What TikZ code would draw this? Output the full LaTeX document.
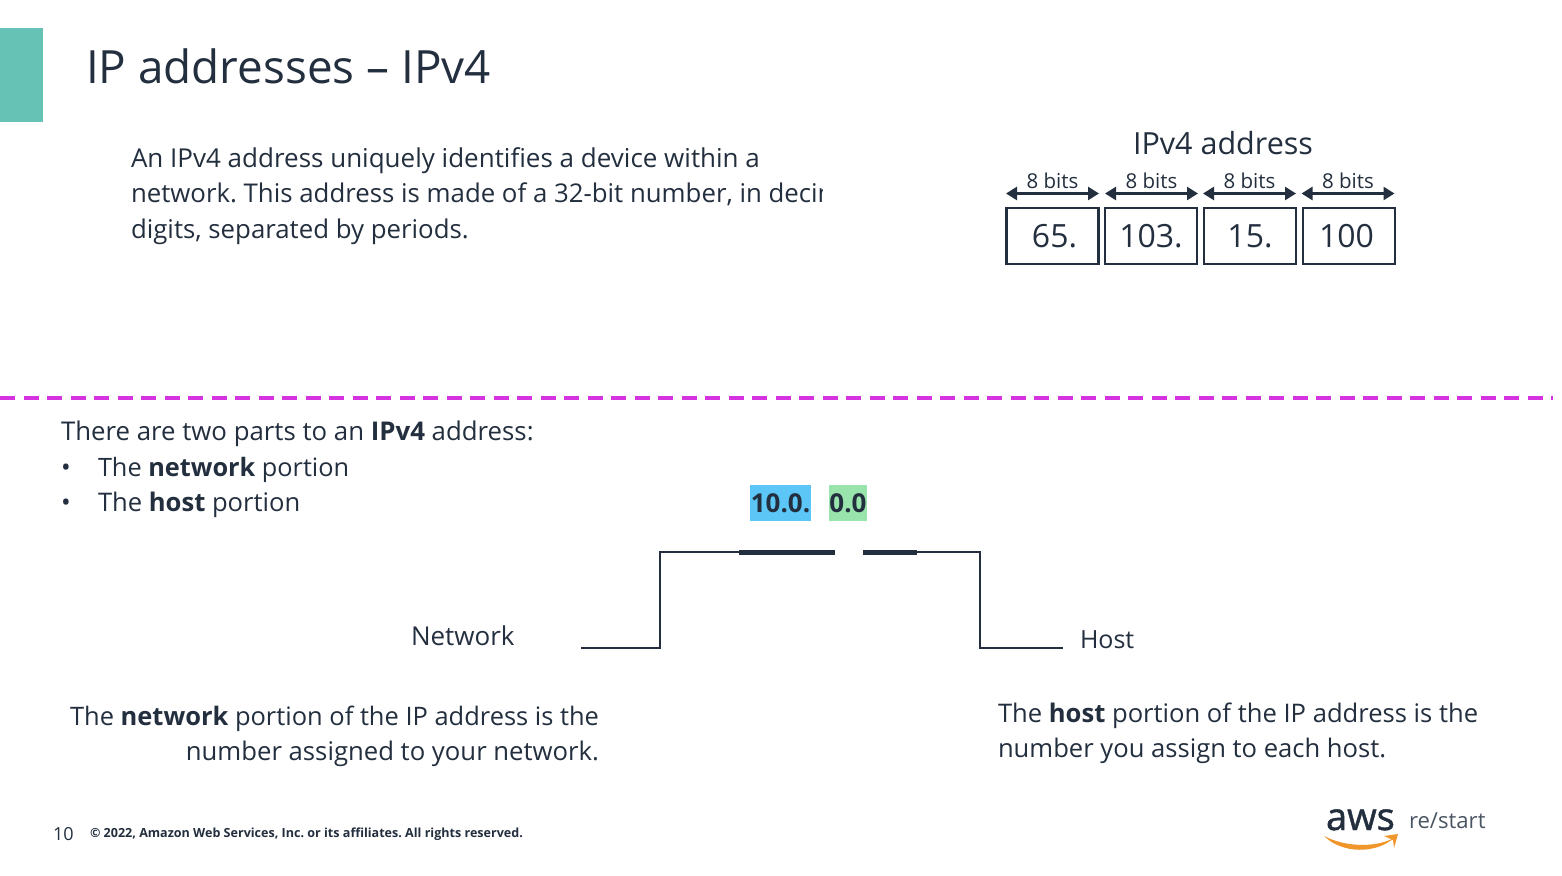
\documentclass[tikz,border=0pt]{standalone}
\usepackage{fontspec}
\setmainfont{Open Sans}
\newfontfamily\awsf[FakeBold=1.2]{Open Sans}
\usetikzlibrary{arrows.meta}
\definecolor{ink}{HTML}{232F3E}
\definecolor{teal}{HTML}{66C2B5}
\definecolor{mag}{HTML}{D633E0}
\definecolor{netb}{HTML}{5CC6F7}
\definecolor{hostg}{HTML}{98E4AC}
\definecolor{awso}{HTML}{F0962A}
\definecolor{grayt}{HTML}{4A5563}
\tikzset{
 x=1pt,y=-1pt,
 every node/.style={text=ink,inner sep=0pt,outer sep=0pt},
 body/.style={anchor=base west,font=\fontsize{25.8}{25.8}\selectfont},
 cellbox/.style={draw=ink,line width=2.7pt,minimum width=92pt,minimum height=56pt,font=\fontsize{32}{32}\selectfont},
 bitlab/.style={anchor=base,font=\fontsize{20.5}{20.5}\selectfont},
 span/.style={draw=ink,line width=2.4pt,{Triangle[length=11pt,width=13pt]}-{Triangle[length=11pt,width=13pt]}},
 trace/.style={draw=ink,line width=2.8pt,line join=miter},
 thick seg/.style={draw=ink,line width=5pt},
}
\begin{document}
\frenchspacing
\begin{tikzpicture}
\useasboundingbox (0,0) rectangle (1562,875);
\fill[white] (0,0) rectangle (1562,875);
\fill[teal] (0,28) rectangle (43,122);
\node[anchor=base west,font=\fontsize{45.8}{45.8}\selectfont] (title) at (86,83) {IP addresses – IPv4};
\node[body,font=\fontsize{26}{26}\selectfont] (i1) at (131,167) {An IPv4 address uniquely identifies a device within a};
\begin{scope}
\clip (120,175) rectangle (822,212);
\node[body] (i2) at (131,202) {network. This address is made of a 32-bit number, in decimal};
\end{scope}
\node[body] (i3) at (131,238) {digits, separated by periods.};
% IPv4 box
\node[anchor=base,font=\fontsize{30.5}{30.5}\selectfont] (head) at (1223,154) {IPv4 address};
\node[cellbox] (c1) at (1052.5,236) {\hspace*{4pt}65.};
\node[cellbox] (c2) at (1151,236) {103.};
\node[cellbox] (c3) at (1250,236) {15.};
\node[cellbox] (c4) at (1349,236) {100\hspace*{5pt}};
\foreach \n/\x in {1/1052.5,2/1151.5,3/1249.5,4/1348}{
 \node[bitlab] (b\n) at (\x,188) {8 bits};
 \coordinate (l\n) at (\x-46.5,193.5);
 \coordinate (r\n) at (\x+46.5,193.5);
 \draw[span] (l\n) -- (r\n);
}
\coordinate (dl) at (0,398); \coordinate (dr) at (1553,398);
\draw[mag,line width=3.2pt,dash pattern=on 15pt off 8.5pt] (dl) -- (dr);
\node[body] (p0) at (61,440) {There are two parts to an \textbf{IPv4} address:};
\node[body] (d1) at (61,476) {•};
\node[body,font=\fontsize{25.3}{25.3}\selectfont] (p1) at (98,476) {The \textbf{network} portion};
\node[body] (d2) at (61,511) {•};
\node[body,font=\fontsize{25.6}{25.6}\selectfont] (p2) at (98,511) {The \textbf{host} portion};
\node[fill=netb,minimum width=61pt,minimum height=36pt,font=\bfseries\fontsize{26}{26}\selectfont] (n10) at (780.5,503) {10.0.};
\node[fill=hostg,minimum width=38pt,minimum height=36pt,font=\bfseries\fontsize{26}{26}\selectfont] (n00) at (848,503) {0.0};
\coordinate (a0) at (581,648); \coordinate (a1) at (660,648); \coordinate (a2) at (660,552); \coordinate (a3) at (739,552); \coordinate (a4) at (835,552);
\coordinate (h0) at (863,552); \coordinate (h1) at (917,552); \coordinate (h2) at (980,552); \coordinate (h3) at (980,648); \coordinate (h4) at (1063,648);
\draw[trace] (a0) -- (a1) -- (a2) -- (a3);
\draw[thick seg] (a3) -- (a4);
\draw[thick seg] (h0) -- (h1);
\draw[trace] (h1) -- (h2) -- (h3) -- (h4);
\node[body,font=\fontsize{26}{26}\selectfont] (nl) at (411,645) {Network};
\node[body,font=\fontsize{25}{25}\selectfont] (hl) at (1080,648) {Host};
\node[anchor=base east,font=\fontsize{25.45}{25.45}\selectfont] (n1) at (599,725) {The \textbf{network} portion of the IP address is the};
\node[anchor=base east,font=\fontsize{25.7}{25.7}\selectfont] (n2) at (599,760) {number assigned to your network.};
\node[body,font=\fontsize{25.6}{25.6}\selectfont] (h5) at (998,722) {The \textbf{host} portion of the IP address is the};
\node[body,font=\fontsize{25.6}{25.6}\selectfont] (h6) at (998,757) {number you assign to each host.};
\node[anchor=base west,font=\fontsize{18}{18}\selectfont] (pg) at (53,840) {10};
\node[anchor=base west,font=\bfseries\fontsize{12.55}{12.55}\selectfont] (cr) at (90,837) {© 2022, Amazon Web Services, Inc. or its affiliates. All rights reserved.};
\node[anchor=base west,font=\awsf\fontsize{38}{38}\selectfont] (aws) at (1326,830) {aws};
\node[anchor=base west,text=grayt,font=\fontsize{22.1}{22.1}\selectfont] (rs) at (1409,828) {re/start};
\fill[awso] (1324,836) .. controls (1345,847) and (1375,848) .. (1394,838) .. controls (1376,854) and (1342,854) .. (1324,836) -- cycle;
\fill[awso] (1384,836) -- (1398,834) -- (1394,848) -- (1393,840) -- cycle;
\end{tikzpicture}
\end{document}
